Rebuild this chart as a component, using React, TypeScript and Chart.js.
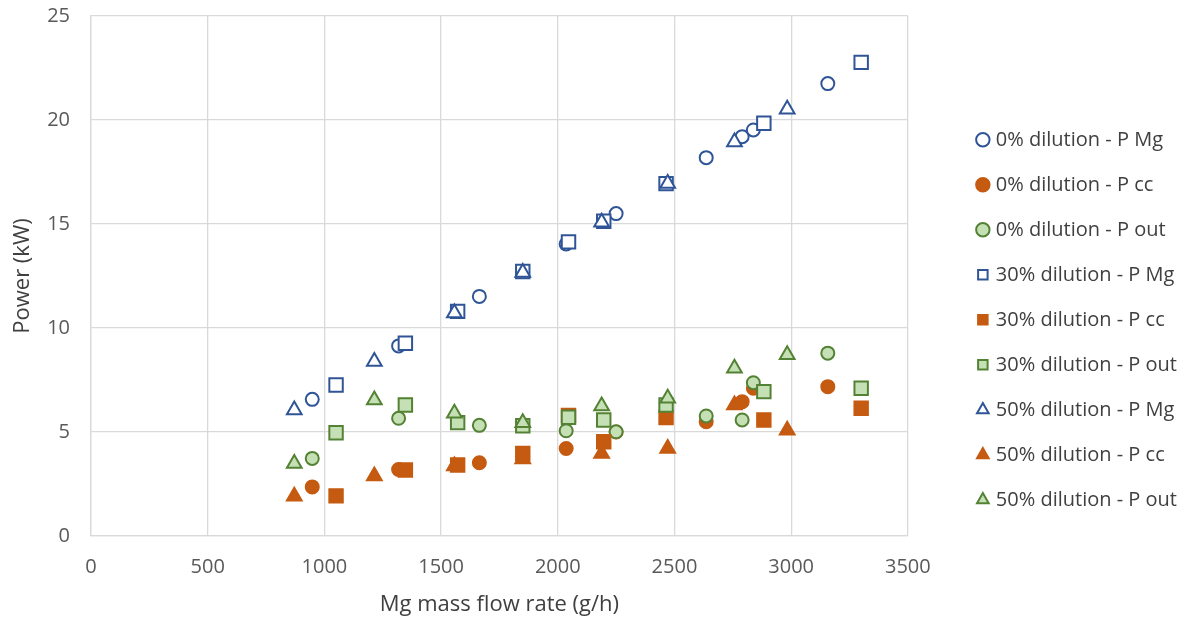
import React, { useEffect, useRef } from "react";
import { Chart, registerables } from "chart.js";

Chart.register(...registerables);

// X values (Mg mass flow rate, g/h) per dilution level
const x0 = [948, 1318, 1664, 2036, 2250, 2636, 2790, 2838, 3157];
const x30 = [1050, 1347, 1571, 1850, 2046, 2197, 2464, 2883, 3300];
const x50 = [871, 1214, 1557, 1850, 2188, 2471, 2757, 2983];

// Power values (kW)
const p0Mg = [6.57, 9.14, 11.52, 14.04, 15.5, 18.19, 19.2, 19.52, 21.75];
const p0cc = [2.36, 3.2, 3.52, 4.21, 5.0, 5.49, 6.46, 7.1, 7.18];
const p0out = [3.73, 5.66, 5.32, 5.06, 5.01, 5.77, 5.58, 7.37, 8.79];

const p30Mg = [7.26, 9.27, 10.8, 12.72, 14.14, 15.13, 16.94, 19.84, 22.77];
const p30cc = [1.93, 3.17, 3.41, 3.97, 5.8, 4.53, 5.7, 5.58, 6.14];
const p30out = [4.96, 6.3, 5.45, 5.3, 5.71, 5.58, 6.3, 6.94, 7.1];

const p50Mg = [6.06, 8.39, 10.72, 12.67, 15.08, 16.95, 18.94, 20.52];
const p50cc = [1.91, 2.88, 3.37, 3.7, 3.97, 4.21, 6.3, 5.09];
const p50out = [3.49, 6.54, 5.9, 5.45, 6.25, 6.62, 8.07, 8.71];

const seriesLabels = [
  "0% dilution - P Mg",
  "0% dilution - P cc",
  "0% dilution - P out",
  "30% dilution - P Mg",
  "30% dilution - P cc",
  "30% dilution - P out",
  "50% dilution - P Mg",
  "50% dilution - P cc",
  "50% dilution - P out",
];

const xTickMin = 0;
const xTickMax = 3500;
const xTickStep = 500;
const yTickMin = 0;
const yTickMax = 25;
const yTickStep = 5;

const BLUE = "#2F5597";
const ORANGE = "#C55A11";
const GREEN = "#548235";
const GREEN_FILL = "#C5E0B4";
const FONT = "'Open Sans', 'Noto Sans', sans-serif";
const LEGEND_GAP = 47;

function zip(xs: number[], ys: number[]) {
  return xs.map((x, i) => ({ x, y: ys[i] }));
}

const legendGapPlugin = {
  id: "legendGap",
  beforeLayout(chart: any) {
    const lg = chart.legend;
    if (lg && !lg.__gapPatched) {
      const orig = lg.fit.bind(lg);
      lg.fit = () => {
        orig();
        lg.width += LEGEND_GAP;
      };
      lg.__gapPatched = true;
    }
  },
  afterLayout(chart: any) {
    const lg = chart.legend;
    if (lg) lg.left += LEGEND_GAP;
  },
};

export default function App() {
  const ref = useRef<HTMLCanvasElement | null>(null);

  useEffect(() => {
    if (!ref.current) return;
    const styleFor = (kind: "Mg" | "cc" | "out") => {
      if (kind === "Mg") return { backgroundColor: "#FFFFFF", borderColor: BLUE };
      if (kind === "cc") return { backgroundColor: ORANGE, borderColor: ORANGE };
      return { backgroundColor: GREEN_FILL, borderColor: GREEN };
    };
    const shapes: [string, number][] = [
      ["circle", 6.5],
      ["rect", 9.5],
      ["triangle", 8.5],
    ];
    const xsets = [x0, x30, x50];
    const ysets = [
      [p0Mg, p0cc, p0out],
      [p30Mg, p30cc, p30out],
      [p50Mg, p50cc, p50out],
    ];
    const kinds: ("Mg" | "cc" | "out")[] = ["Mg", "cc", "out"];
    const datasets: any[] = [];
    for (let d = 0; d < 3; d++) {
      for (let k = 0; k < 3; k++) {
        const st = styleFor(kinds[k]);
        const idx = d * 3 + k;
        datasets.push({
          label: seriesLabels[idx],
          data: zip(xsets[d], ysets[d][k]),
          order: -idx,
          pointStyle: shapes[d][0],
          pointRadius: shapes[d][1],
          pointHoverRadius: shapes[d][1],
          pointBorderWidth: 2,
          borderWidth: 2,
          backgroundColor: st.backgroundColor,
          borderColor: st.borderColor,
          pointBackgroundColor: st.backgroundColor,
          pointBorderColor: st.borderColor,
          showLine: false,
        });
      }
    }

    const chart = new Chart(ref.current, {
      type: "scatter",
      data: { datasets },
      plugins: [legendGapPlugin],
      options: {
        animation: false,
        responsive: false,
        maintainAspectRatio: false,
        layout: { padding: { top: 0, right: 12, left: 0, bottom: 2 } },
        plugins: {
          tooltip: { enabled: false },
          legend: {
            position: "right",
            align: "center",
            title: {
              display: true,
              text: " ",
              font: { size: 8 },
              padding: { top: 6, bottom: 6 },
            },
            labels: {
              usePointStyle: true,
              boxWidth: 6,
              boxHeight: 9.5,
              padding: 25,
              color: "#404040",
              font: { family: FONT, size: 20 },
              sort: (a: any, b: any) => a.datasetIndex - b.datasetIndex,
            },
          },
        },
        scales: {
          x: {
            type: "linear",
            min: xTickMin,
            max: xTickMax,
            ticks: {
              stepSize: xTickStep,
              color: "#595959",
              font: { family: FONT, size: 20 },
              padding: 19,
              callback: (v: any) => String(v),
            },
            grid: { color: "#D9D9D9", lineWidth: 1.3, drawTicks: false },
            border: { color: "#D9D9D9", width: 1.3 },
            title: {
              display: true,
              text: "Mg mass flow rate (g/h)",
              color: "#404040",
              font: { family: FONT, size: 22 },
              padding: { top: 12, bottom: 0 },
            },
            afterFit: (s: any) => {
              s.height = 82;
            },
          },
          y: {
            type: "linear",
            position: "left",
            min: yTickMin,
            max: yTickMax,
            ticks: {
              stepSize: yTickStep,
              color: "#595959",
              font: { family: FONT, size: 20 },
              padding: 21,
              callback: (v: any) => String(v),
            },
            grid: { color: "#D9D9D9", lineWidth: 1.3, drawTicks: false },
            border: { color: "#D9D9D9", width: 1.3 },
            title: {
              display: true,
              text: "Power (kW)",
              color: "#404040",
              font: { family: FONT, size: 22 },
              padding: { top: 10, bottom: 10 },
            },
            afterFit: (s: any) => {
              s.width = 91;
              s.paddingTop = 16;
            },
          },
        },
      },
    });
    return () => chart.destroy();
  }, []);

  return (
    <div style={{ position: "fixed", left: 0, top: 0, width: 1199, height: 620, background: "#fff" }}>
      <canvas ref={ref} width={1199} height={620} style={{ display: "block" }} />
    </div>
  );
}
